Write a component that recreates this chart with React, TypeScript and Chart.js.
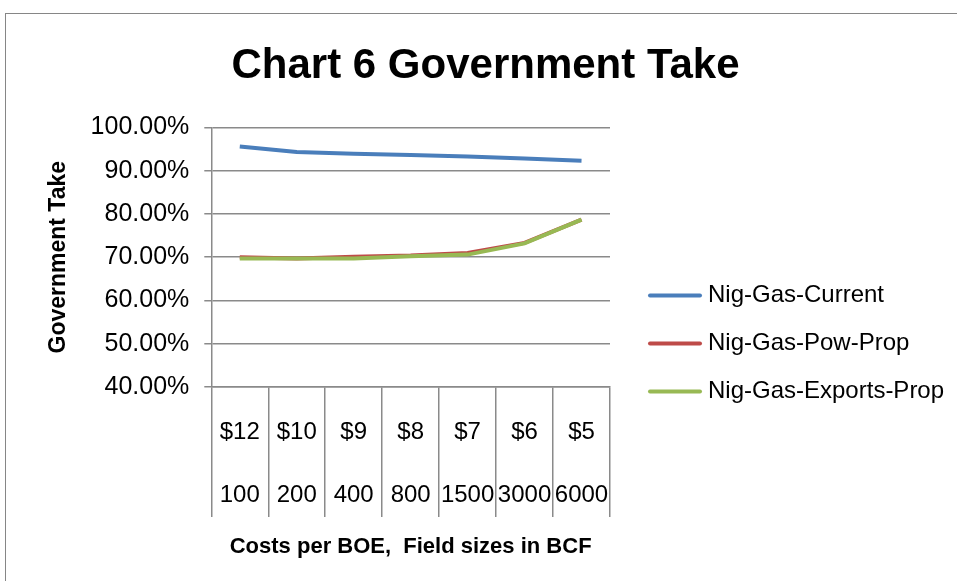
import React, { useEffect, useRef } from "react";
import { Chart, registerables } from "chart.js";

Chart.register(...registerables);

const costLabels = ["$12", "$10", "$9", "$8", "$7", "$6", "$5"];
const fieldSizes = ["100", "200", "400", "800", "1500", "3000", "6000"];
const nigGasCurrent = [95.6, 94.3, 93.9, 93.6, 93.3, 92.8, 92.3];
const nigGasPowProp = [70.0, 69.7, 70.1, 70.4, 71.0, 73.3, 78.7];
const nigGasExportsProp = [69.7, 69.7, 69.7, 70.2, 70.6, 73.2, 78.7];
const seriesNames = ["Nig-Gas-Current", "Nig-Gas-Pow-Prop", "Nig-Gas-Exports-Prop"];
const seriesColors = ["#4a7ebb", "#be4b48", "#98b954"];
const yMin = 40;
const yMax = 100;
const yStep = 10;

const FONT = "'Liberation Sans', Arial, sans-serif";
const GRID = "#8a8a8a";

const sideLegend = {
  id: "sideLegend",
  afterDraw(chart: any) {
    const ctx = chart.ctx;
    const area = chart.chartArea;
    const x0 = area.right + 40;
    const lineW = 50;
    const rowGap = 48;
    const y0 = area.top + 168;
    ctx.save();
    ctx.font = `24px ${FONT}`;
    ctx.textBaseline = "middle";
    ctx.textAlign = "left";
    chart.data.datasets.forEach((ds: any, i: number) => {
      const y = y0 + i * rowGap;
      ctx.strokeStyle = ds.borderColor;
      ctx.lineWidth = 4;
      ctx.lineCap = "round";
      ctx.beginPath();
      ctx.moveTo(x0, y);
      ctx.lineTo(x0 + lineW, y);
      ctx.stroke();
      ctx.fillStyle = "#000";
      ctx.fillText(ds.label, x0 + lineW + 8, y);
    });
    ctx.restore();
  },
};

export default function App() {
  const ref = useRef<HTMLCanvasElement | null>(null);

  useEffect(() => {
    if (!ref.current) return;
    const labels = costLabels.map((c, i) => [c, "", fieldSizes[i]]);
    const series = [nigGasCurrent, nigGasPowProp, nigGasExportsProp];
    const orders = [2, 1, 0];
    const chart = new Chart(ref.current, {
      type: "line",
      data: {
        labels,
        datasets: series.map((d, i) => ({
          label: seriesNames[i],
          data: d,
          borderColor: seriesColors[i],
          backgroundColor: seriesColors[i],
          borderWidth: 4,
          pointRadius: 0,
          order: orders[i],
          yAxisID: "y",
        })),
      },
      options: {
        responsive: false,
        animation: false,
        color: "#000",
        layout: { padding: { left: 14, right: 0, top: 0, bottom: 19 } },
        plugins: {
          tooltip: { enabled: false },
          legend: { display: false },
          title: {
            display: true,
            text: "Chart 6 Government Take",
            color: "#000",
            font: { family: FONT, size: 42, weight: "bold" },
            padding: { top: 41, bottom: 36 },
          },
        },
        scales: {
          x: {
            offset: true,
            grid: {
              offset: true,
              drawOnChartArea: false,
              tickLength: 130,
              color: GRID,
              lineWidth: 1.5,
            },
            border: { display: true, color: GRID, width: 1.5 },
            ticks: {
              autoSkip: false,
              maxRotation: 0,
              padding: -100,
              color: "#000",
              font: { family: FONT, size: 24, lineHeight: 1.3 },
            },
            title: {
              display: true,
              text: "Costs per BOE,  Field sizes in BCF",
              color: "#000",
              font: { family: FONT, size: 22, weight: "bold" },
              padding: { top: 0, bottom: 2 },
            },
            afterFit: (s: any) => {
              s.height = 175;
            },
          },
          y: {
            min: yMin,
            max: yMax,
            grid: { color: GRID, lineWidth: 1.5, tickLength: 7 },
            border: { display: true, color: GRID, width: 1.5 },
            ticks: {
              stepSize: yStep,
              padding: 15,
              color: "#000",
              font: { family: FONT, size: 25 },
              callback: (v: any) => Number(v).toFixed(2) + "%",
            },
            title: {
              display: true,
              text: "Government Take",
              color: "#000",
              font: { family: FONT, size: 23, weight: "bold" },
              padding: { top: 31, bottom: 3 },
            },
          },
          legendSpace: {
            type: "linear",
            position: "right",
            display: true,
            grid: { display: false, drawTicks: false },
            border: { display: false },
            ticks: { display: false },
            title: { display: false },
            afterFit: (s: any) => {
              s.width = 347;
            },
          },
        },
      },
      plugins: [sideLegend],
    });
    return () => chart.destroy();
  }, []);

  return (
    <div
      style={{
        position: "fixed",
        left: 0,
        top: 0,
        width: 957,
        height: 581,
        overflow: "hidden",
        background: "#fff",
      }}
    >
      <div
        style={{
          position: "absolute",
          left: 5,
          top: 13,
          width: 1100,
          height: 800,
          border: "1px solid #868686",
        }}
      />
      <canvas
        ref={ref}
        width={957}
        height={581}
        style={{ position: "absolute", left: 0, top: 0, width: 957, height: 581 }}
      />
    </div>
  );
}
